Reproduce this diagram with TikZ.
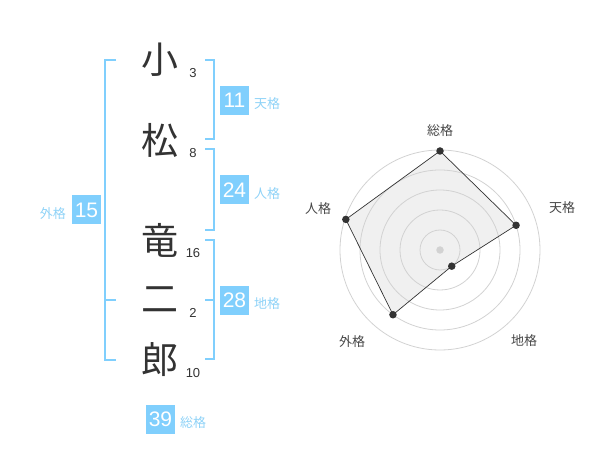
\documentclass[tikz,border=0pt]{standalone}
\usepackage{fontspec}
\setmainfont{Liberation Sans}
\newfontfamily\jp{Noto Sans CJK JP}
\definecolor{SkyBox}{HTML}{80CFFD}
\definecolor{SkyText}{HTML}{8ED2F7}
\definecolor{Ink}{HTML}{333333}
\definecolor{RingGray}{HTML}{D2D2D2}
\definecolor{WebFill}{HTML}{F0F0F0}
\usetikzlibrary{positioning}

\begin{document}
\begin{tikzpicture}
[x=1pt,y=-1pt,
   kanji/.style={font=\jp\fontsize{37}{37}\selectfont,text=Ink,inner sep=0pt},
   strokes/.style={font=\fontsize{13}{13}\selectfont,text=Ink,inner sep=0pt},
   kakubox/.style={minimum size=29pt,inner sep=0pt,fill=SkyBox,text=white,
   font=\fontsize{21}{21}\selectfont},
   kakulb/.style={font=\jp\fontsize{13}{13}\selectfont,text=SkyText,inner sep=0pt},
   bracket/.style={draw=SkyBox,line width=2pt},
   ring/.style={draw=RingGray,line width=.8pt},
   axislb/.style={font=\jp\fontsize{13}{13}\selectfont,text=Ink!90,inner sep=0pt},
   dot/.style={circle,fill=Ink,inner sep=0pt,minimum size=7.5pt}]
\useasboundingbox (0,0) rectangle (600,470);
% name
\node[kanji] (k1) at (160,60) {小};
\node[kanji] (k2) at (160,140) {松};
\node[kanji] (k3) at (160,240) {竜};
\node[kanji] (k4) at (160,300) {二};
\node[kanji] (k5) at (160,360) {郎};
\node[strokes] (s1) at (193,73) {3};
\node[strokes] (s2) at (193,153) {8};
\node[strokes] (s3) at (193,253) {16};
\node[strokes] (s4) at (193,313) {2};
\node[strokes] (s5) at (193,373) {10};
% brackets
\draw[bracket] (116,60) -- (105,60) -- (105,360) -- (116,360);
\draw[bracket] (105,300) -- (116,300);
\draw[bracket] (205,60) -- (214,60) -- (214,139) -- (205,139);
\draw[bracket] (205,149) -- (214,149) -- (214,230) -- (205,230);
\draw[bracket] (205,240) -- (214,240) -- (214,359) -- (205,359);
\draw[bracket] (205,300) -- (214,300);
% kaku values
\node[kakubox] (ten) at (234.5,100.5) {11};
\node[kakubox] (jin) at (234.5,190) {24};
\node[kakubox] (chi) at (234.5,300.5) {28};
\node[kakubox] (gai) at (86.5,210) {15};
\node[kakubox] (so) at (160.5,419) {39};
\node[kakulb,anchor=west] (tenlb) at (254,104) {天格};
\node[kakulb,anchor=west] (jinlb) at (254,194) {人格};
\node[kakulb,anchor=west] (chilb) at (254,304) {地格};
\node[kakulb,anchor=east] (gailb) at (66,214) {外格};
\node[kakulb,anchor=west] (solb) at (180,423) {総格};
%% radar
\begin{scope}[shift={(440,250)},x=1pt,y=1pt]
\foreach \a/\v/\n in {90/99/pSo,18/80/pTen,-54/20/pChi,-126/80/pGai,162/99/pJin}
   \coordinate (\n) at (\a:\v);
\fill[WebFill] (pSo) -- (pTen) -- (pChi) -- (pGai) -- (pJin) -- cycle;
\foreach \r in {20,40,...,100}
   \draw[ring] (0,0) circle (\r);
\draw[Ink,line width=.7pt] (pSo) -- (pTen) -- (pChi) -- (pGai) -- (pJin) -- cycle;
\foreach \n in {pSo,pTen,pChi,pGai,pJin}
   \node[dot] at (\n) {};
\node[dot,fill=RingGray] (hub) at (0,0) {};
\node[axislb] (axSo) at (0,119) {総格};
\node[axislb] (axTen) at (122,42) {天格};
\node[axislb] (axChi) at (84,-91) {地格};
\node[axislb] (axGai) at (-88,-92) {外格};
\node[axislb] (axJin) at (-122,41) {人格};
\end{scope}
\end{tikzpicture}
\end{document}
